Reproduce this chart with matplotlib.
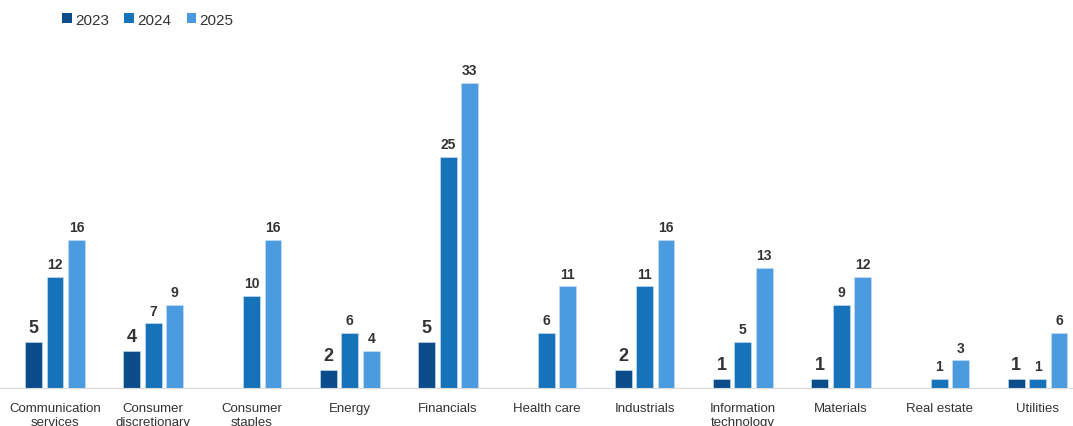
import numpy as np
import matplotlib.pyplot as plt
from matplotlib.patches import Patch

sectors = ['Communication\nservices', 'Consumer\ndiscretionary', 'Consumer\nstaples', 'Energy',
           'Financials', 'Health care', 'Industrials', 'Information\ntechnology', 'Materials',
           'Real estate', 'Utilities']
years = ['2023', '2024', '2025']
v2023 = [5, 4, 0, 2, 5, 0, 2, 1, 1, 0, 1]
v2024 = [12, 7, 10, 6, 25, 6, 11, 5, 9, 1, 1]
v2025 = [16, 9, 16, 4, 33, 11, 16, 13, 12, 3, 6]
colors = ['#0b4d8b', '#1673b9', '#4a9be0']

plt.rcParams['font.family'] = ['Liberation Sans', 'DejaVu Sans']

fig = plt.figure(figsize=(10.73, 4.27), dpi=100)
ax = fig.add_axes([0, 38 / 427, 1, 333 / 427])

x = np.arange(len(sectors))
step = 0.218
width = 0.172
series = [v2023, v2024, v2025]
for i, (vals, col) in enumerate(zip(series, colors)):
    pos = x + (i - 1) * step
    ax.bar(pos, vals, width=width, color=col, edgecolor='#cfe3f7', linewidth=0.4)
    for p, v in zip(pos, vals):
        if v == 0:
            continue
        fs = 13 if i == 0 else 10
        ax.text(p, v + 0.6, str(v), ha='center', va='bottom', fontsize=fs,
                fontweight='bold', color='#333333')

ax.set_xlim(-0.56, 10.36)
ax.set_ylim(0, 36)
ax.set_xticks(x)
ax.set_xticklabels(sectors, fontsize=9.5, color='#333333', linespacing=1.25)
ax.tick_params(axis='x', length=0, pad=10)
ax.set_yticks([])
for s in ['top', 'right', 'left']:
    ax.spines[s].set_visible(False)
ax.spines['bottom'].set_color('#d9d9d9')
ax.spines['bottom'].set_linewidth(0.8)

handles = [Patch(facecolor=c, edgecolor='none') for c in colors]
fig.legend(handles, years, loc='upper left', bbox_to_anchor=(0.045, 1.0), ncol=3,
           frameon=False, fontsize=11, handlelength=0.65, handleheight=0.65,
           handletextpad=0.2, columnspacing=1.0, labelcolor='#333333')

fig.savefig('out.png', dpi=100)
